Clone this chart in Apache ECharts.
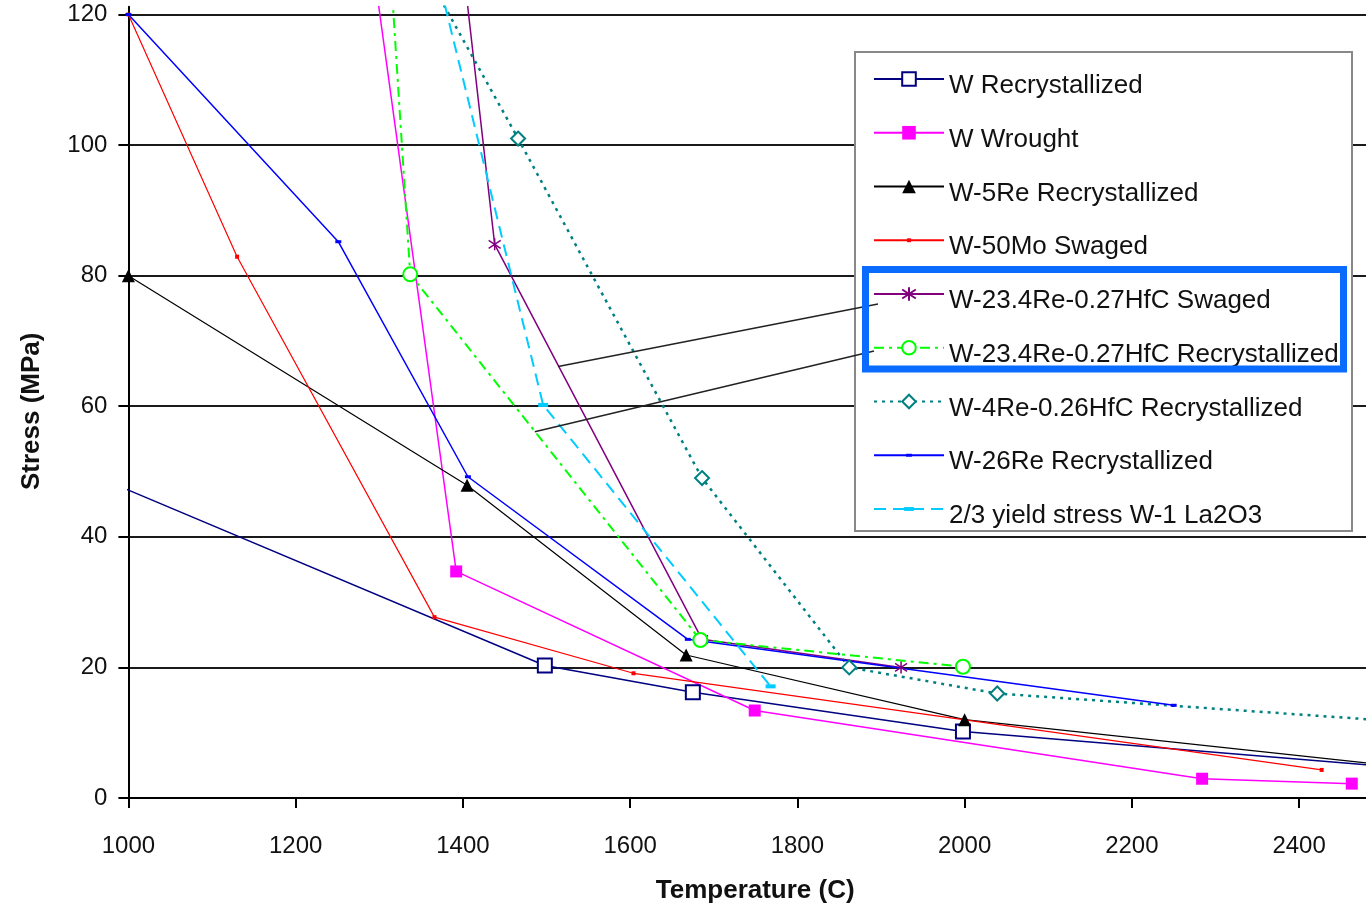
<!DOCTYPE html>
<html>
<head>
<meta charset="utf-8">
<title>Stress vs Temperature</title>
<script src="https://cdn.jsdelivr.net/npm/echarts@6/dist/echarts.min.js"></script>
<style>
  html, body { margin: 0; padding: 0; background: #fff; }
  #chart { width: 1366px; height: 909px; }
</style>
</head>
<body>
<div id="chart"></div>
<script>
// axis ticks
const xTicks = [1000, 1200, 1400, 1600, 1800, 2000, 2200, 2400];
const yTicks = [0, 20, 40, 60, 80, 100, 120];

const seriesNames = [
  'W Recrystallized',
  'W Wrought',
  'W-5Re Recrystallized',
  'W-50Mo Swaged',
  'W-23.4Re-0.27HfC Swaged',
  'W-23.4Re-0.27HfC Recrystallized',
  'W-4Re-0.26HfC Recrystallized',
  'W-26Re Recrystallized',
  '2/3 yield stress W-1 La2O3'
];

// temperature (C) / stress (MPa)
const wRecrysTemp = [990, 1498, 1675, 1998, 2500];
const wRecrysStress = [47.7, 20.3, 16.2, 10.2, 4.9];

const wWroughtTemp = [1290, 1392, 1749, 2284, 2463];
const wWroughtStress = [130, 34.7, 13.4, 2.95, 2.2];

const w5ReTemp = [1000, 1405, 1667, 2000, 2500];
const w5ReStress = [80, 47.9, 21.9, 12.0, 5.1];

const w50MoTemp = [1000, 1130, 1366, 1604, 2427];
const w50MoStress = [120, 82.9, 27.7, 19.1, 4.3];

const hfcSwagedTemp = [1398, 1438, 1686, 1924];
const hfcSwagedStress = [130, 84.8, 24.3, 20.0];

const hfcRecrysTemp = [1312, 1337, 1684, 1998];
const hfcRecrysStress = [130, 80.2, 24.2, 20.1];

const w4ReTemp = [1340, 1466, 1686, 1862, 2039, 2500];
const w4ReStress = [130, 101.0, 49.0, 20.0, 16.0, 11.9];

const w26ReTemp = [1000, 1251, 1406, 1669, 2250];
const w26ReStress = [120, 85.2, 49.2, 24.3, 14.2];

const la2o3Temp = [1362, 1496, 1768];
const la2o3Stress = [130, 60.2, 17.1];

const seriesTemps = [wRecrysTemp, wWroughtTemp, w5ReTemp, w50MoTemp, hfcSwagedTemp,
  hfcRecrysTemp, w4ReTemp, w26ReTemp, la2o3Temp];
const seriesStress = [wRecrysStress, wWroughtStress, w5ReStress, w50MoStress, hfcSwagedStress,
  hfcRecrysStress, w4ReStress, w26ReStress, la2o3Stress];

// callout anchors on the two highlighted curves
const calloutAnchors = [[1514, 66.1], [1486, 56.1]];

const FONT = '"Liberation Sans", Arial, sans-serif';

// small marker shapes drawn inside a 14x14 box so the legend icon stays small
const DOT = 'path://M0,0 M14,14 M5,5 h4 v4 h-4 z';
const DASH = 'path://M0,0 M14,14 M4,5.5 h6 v3 h-6 z';
const BAR = 'path://M0,0 M14,14 M2,5 h10 v4 h-10 z';
const STAR = 'path://M7,1 V13 M2,3 L12,11 M2,11 L12,3';

const styles = [
  { color: '#000080', type: 'solid', width: 1.5, symbol: 'emptyRect', size: 14, border: 2 },
  { color: '#ff00ff', type: 'solid', width: 1.5, symbol: 'rect', size: 12, border: 0 },
  { color: '#000000', type: 'solid', width: 1.2, symbol: 'triangle', size: 13, border: 0 },
  { color: '#ff0000', type: 'solid', width: 1.2, symbol: DOT, size: 14, border: 0 },
  { color: '#800080', type: 'solid', width: 1.5, symbol: STAR, size: 12, border: 1.5 },
  { color: '#00ff00', type: [10, 5, 3, 5], width: 2, symbol: 'emptyCircle', size: 14, border: 2 },
  { color: '#008080', type: [3, 5], width: 2.5, symbol: 'emptyDiamond', size: 14, border: 2 },
  { color: '#0000ff', type: 'solid', width: 1.5, symbol: DASH, size: 14, border: 0 },
  { color: '#00ccff', type: [12, 7], width: 2, symbol: BAR, size: 14, border: 0 }
];

const series = seriesNames.map(function (name, i) {
  const st = styles[i];
  return {
    name: name,
    type: 'line',
    data: seriesTemps[i].map(function (t, j) { return [t, seriesStress[i][j]]; }),
    symbol: st.symbol,
    symbolSize: st.size,
    showAllSymbol: true,
    clip: true,
    silent: true,
    lineStyle: { color: st.color, width: st.width, type: st.type },
    itemStyle: { color: st.color, borderColor: st.color, borderWidth: st.border },
    emphasis: { disabled: true }
  };
});

const chart = echarts.init(document.getElementById('chart'));

chart.setOption({
  animation: false,
  backgroundColor: '#fff',
  grid: { left: 128.4, right: 0, top: 6.65, bottom: 109, containLabel: false },
  xAxis: {
    type: 'value',
    min: 1000,
    max: 2480,
    interval: 200,
    name: 'Temperature (C)',
    nameLocation: 'middle',
    nameGap: 80,
    nameTextStyle: { fontFamily: FONT, fontSize: 26, fontWeight: 'bold', color: '#111', padding: [0, 0, 0, 16] },
    axisLine: { lineStyle: { color: '#000', width: 2 } },
    axisTick: { customValues: xTicks, length: 10, lineStyle: { color: '#000', width: 2 } },
    axisLabel: {
      customValues: xTicks, margin: 36, fontFamily: FONT, fontSize: 24, color: '#111',
      formatter: function (v) { return String(v); }
    },
    splitLine: { show: false }
  },
  yAxis: {
    type: 'value',
    min: 0,
    max: 121.2,
    interval: 20,
    name: 'Stress (MPa)',
    nameLocation: 'middle',
    nameGap: 84,
    nameTextStyle: { fontFamily: FONT, fontSize: 26, fontWeight: 'bold', color: '#111', padding: [0, 18, 0, 0] },
    axisLine: { show: true, lineStyle: { color: '#000', width: 2 } },
    axisTick: { show: true, customValues: yTicks, length: 10, lineStyle: { color: '#000', width: 2 } },
    axisLabel: { customValues: yTicks, margin: 21, fontFamily: FONT, fontSize: 24, color: '#111' },
    splitLine: { show: true, lineStyle: { color: '#1a1a1a', width: 2 } }
  },
  legend: {
    orient: 'vertical',
    left: 873,
    top: 59,
    padding: 0,
    itemWidth: 70,
    itemHeight: 17,
    itemGap: 13.75,
    selectedMode: false,
    z: 5,
    formatter: '{t|{name}}',
    textStyle: {
      fontFamily: FONT, fontSize: 26, color: '#111',
      rich: { t: { fontFamily: FONT, fontSize: 26, lineHeight: 30, padding: [14, 0, 0, 0], color: '#111' } }
    },
    data: seriesNames
  },
  series: series
});

// legend frame, highlight box and callout lines
const legendEnds = [[878, 304], [874, 351]];
const callouts = calloutAnchors.map(function (pt, i) {
  const p = chart.convertToPixel({ gridIndex: 0 }, pt);
  return {
    type: 'line',
    z: 7,
    silent: true,
    shape: { x1: p[0], y1: p[1], x2: legendEnds[i][0], y2: legendEnds[i][1] },
    style: { stroke: '#222', lineWidth: 1.5 }
  };
});

chart.setOption({
  graphic: [
    {
      type: 'rect',
      z: 3,
      silent: true,
      shape: { x: 855, y: 52, width: 497, height: 479 },
      style: { fill: '#fff', stroke: '#888', lineWidth: 2 }
    },
    {
      type: 'rect',
      z: 8,
      silent: true,
      shape: { x: 865.5, y: 269.5, width: 478, height: 99.5 },
      style: { fill: null, stroke: '#0a6cff', lineWidth: 7 }
    }
  ].concat(callouts)
});
</script>
</body>
</html>
